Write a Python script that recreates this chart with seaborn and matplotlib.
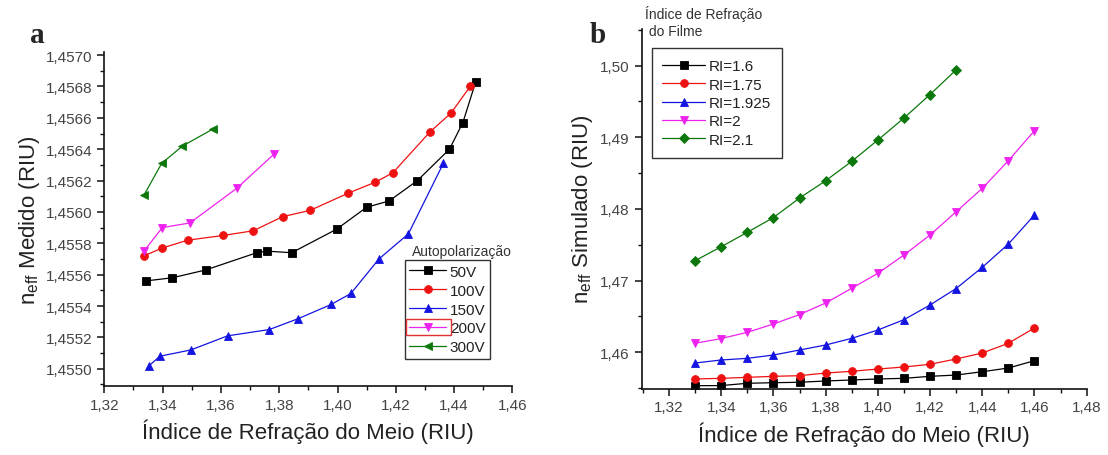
import numpy as np
import pandas as pd
import matplotlib
matplotlib.use("Agg")
import matplotlib.pyplot as plt
from matplotlib.ticker import FuncFormatter, MultipleLocator
from matplotlib.patches import Rectangle
import seaborn as sns

# ---------------- panel a: measured effective index ----------------
v50_x = [1.3342, 1.3433, 1.3548, 1.3723, 1.3757, 1.3843, 1.3997, 1.4100, 1.4177, 1.4274, 1.4384, 1.4430, 1.4474]
v50_y = [1.45556, 1.45558, 1.45563, 1.45574, 1.45575, 1.45574, 1.45589, 1.45603, 1.45607, 1.45620, 1.45640, 1.45657, 1.45683]

v100_x = [1.3336, 1.3399, 1.3486, 1.3608, 1.3711, 1.3812, 1.3906, 1.4037, 1.4130, 1.4190, 1.4317, 1.4389, 1.4455]
v100_y = [1.45572, 1.45577, 1.45582, 1.45585, 1.45588, 1.45597, 1.45601, 1.45612, 1.45619, 1.45625, 1.45651, 1.45663, 1.45680]

v150_x = [1.3354, 1.3391, 1.3497, 1.3623, 1.3766, 1.3866, 1.3978, 1.4046, 1.4142, 1.4243, 1.4363]
v150_y = [1.45502, 1.45508, 1.45512, 1.45521, 1.45525, 1.45532, 1.45541, 1.45548, 1.45570, 1.45586, 1.45631]

v200_x = [1.3336, 1.3399, 1.3494, 1.3654, 1.3783]
v200_y = [1.45575, 1.45590, 1.45593, 1.45615, 1.45637]

v300_x = [1.3337, 1.3397, 1.3468, 1.3574]
v300_y = [1.45611, 1.45631, 1.45642, 1.45653]

bias_labels = ["50V", "100V", "150V", "200V", "300V"]

# ---------------- panel b: simulated effective index ----------------
medium_ri = [1.33, 1.34, 1.35, 1.36, 1.37, 1.38, 1.39, 1.40, 1.41, 1.42, 1.43, 1.44, 1.45, 1.46]
medium_ri_21 = [1.33, 1.34, 1.35, 1.36, 1.37, 1.38, 1.39, 1.40, 1.41, 1.42, 1.43]

sim_160 = [1.45534, 1.45536, 1.45568, 1.45576, 1.45582, 1.45600, 1.45614, 1.45628, 1.45637, 1.45665, 1.45683, 1.45729, 1.45781, 1.45883]
sim_175 = [1.45628, 1.45637, 1.45651, 1.45665, 1.45674, 1.45711, 1.45735, 1.45767, 1.45795, 1.45833, 1.45907, 1.45990, 1.46126, 1.46339]
sim_1925 = [1.45851, 1.45893, 1.45916, 1.45962, 1.46032, 1.46102, 1.46195, 1.46311, 1.46455, 1.46660, 1.46890, 1.47185, 1.47510, 1.47915]
sim_200 = [1.46126, 1.46192, 1.46279, 1.46395, 1.46527, 1.46688, 1.46893, 1.47102, 1.47357, 1.47636, 1.47961, 1.48287, 1.48672, 1.49091]
sim_210 = [1.47278, 1.47473, 1.47674, 1.47880, 1.48152, 1.48393, 1.48664, 1.48961, 1.49268, 1.49596, 1.49940]

film_labels = ["RI=1.6", "RI=1.75", "RI=1.925", "RI=2", "RI=2.1"]

colors = ["#000000", "#ee1111", "#1414e0", "#ee22ee", "#0c780c"]

sns.set_theme(style="ticks")
plt.rcParams["font.family"] = ["Liberation Sans", "DejaVu Sans"]
plt.rcParams["mathtext.default"] = "regular"
plt.rcParams["axes.edgecolor"] = "#111111"
plt.rcParams["axes.linewidth"] = 1.2

fig = plt.figure(figsize=(11.08, 4.56), dpi=100)
ax_a = fig.add_axes([0.0941, 0.1513, 0.3684, 0.7325])
ax_b = fig.add_axes([0.5791, 0.1458, 0.4016, 0.7884])


def draw(ax, x, y, color, marker, label, ms):
    sns.lineplot(x=x, y=y, ax=ax, color=color, marker=marker, markersize=ms,
                 markeredgecolor=color, markeredgewidth=0.6, linewidth=0.9,
                 estimator=None, sort=False, legend=False, label=label)


series_a = [(v50_x, v50_y, "s"), (v100_x, v100_y, "o"), (v150_x, v150_y, "^"),
            (v200_x, v200_y, "v"), (v300_x, v300_y, "<")]
for (x, y, m), c, lab in zip(series_a, colors, bias_labels):
    draw(ax_a, x, y, c, m, lab, 5.6)

series_b = [(medium_ri, sim_160, "s"), (medium_ri, sim_175, "o"), (medium_ri, sim_1925, "^"),
            (medium_ri, sim_200, "v"), (medium_ri_21, sim_210, "D")]
for (x, y, m), c, lab in zip(series_b, colors, film_labels):
    draw(ax_b, x, y, c, m, lab, 5.6)

comma = lambda fmt: FuncFormatter(lambda v, p: fmt.format(v).replace(".", ","))

# axis a
ax_a.set_xlim(1.32, 1.46)
ax_a.set_ylim(1.45489, 1.45702)
ax_a.xaxis.set_major_locator(MultipleLocator(0.02))
ax_a.xaxis.set_minor_locator(MultipleLocator(0.01))
ax_a.yaxis.set_major_locator(MultipleLocator(0.0002))
ax_a.yaxis.set_minor_locator(MultipleLocator(0.0001))
ax_a.xaxis.set_major_formatter(comma("{:.2f}"))
ax_a.yaxis.set_major_formatter(comma("{:.4f}"))
ax_a.set_xlabel("Índice de Refração do Meio (RIU)", fontsize=16, color="#222222", labelpad=5)
ax_a.set_ylabel(r"$n_{eff}$ Medido (RIU)", fontsize=16, color="#222222", labelpad=3)

# axis b
ax_b.set_xlim(1.3095, 1.48)
ax_b.set_ylim(1.45495, 1.5051)
ax_b.xaxis.set_major_locator(MultipleLocator(0.02))
ax_b.xaxis.set_minor_locator(MultipleLocator(0.01))
ax_b.yaxis.set_major_locator(MultipleLocator(0.01))
ax_b.yaxis.set_minor_locator(MultipleLocator(0.005))
ax_b.xaxis.set_major_formatter(comma("{:.2f}"))
ax_b.yaxis.set_major_formatter(comma("{:.2f}"))
ax_b.set_xlabel("Índice de Refração do Meio (RIU)", fontsize=16, color="#222222", labelpad=5)
ax_b.set_ylabel(r"$n_{eff}$ Simulado (RIU)", fontsize=16, color="#222222", labelpad=4)

for ax in (ax_a, ax_b):
    sns.despine(ax=ax)
    ax.tick_params(which="major", direction="out", length=5, width=1.1,
                   labelsize=11, labelcolor="#444444", color="#111111")
    ax.tick_params(which="minor", direction="out", length=3, width=1.0, color="#111111")

leg_a = ax_a.legend(loc="lower right", bbox_to_anchor=(0.945, 0.081), borderaxespad=0,
                    fontsize=11, labelspacing=0.32, handlelength=2.4, handletextpad=0.25,
                    borderpad=0.3, fancybox=False, framealpha=1, edgecolor="#333333",
                    labelcolor="#222222")
leg_a.get_frame().set_linewidth(1.0)
ax_a.text(0.753, 0.404, "Autopolarização", transform=ax_a.transAxes, fontsize=10,
          color="#333333", ha="left", va="center")

leg_b = ax_b.legend(loc="upper left", bbox_to_anchor=(0.0225, 0.946), borderaxespad=0,
                    fontsize=11, labelspacing=0.29, handlelength=2.8, handletextpad=0.25,
                    borderpad=0.7, fancybox=False, framealpha=1, edgecolor="#333333",
                    labelcolor="#222222")
leg_b.get_frame().set_linewidth(1.0)
ax_b.text(0.0074, 1.067, "Índice de Refração\n do Filme", transform=ax_b.transAxes,
          fontsize=10, color="#333333", ha="left", va="top", linespacing=1.3)

# panel letters
fig.text(0.027, 0.922, "a", fontsize=21, fontweight="bold", family="Liberation Serif",
         ha="left", va="center")
fig.text(0.532, 0.922, "b", fontsize=21, fontweight="bold", family="Liberation Serif",
         ha="left", va="center")

# highlight box around the 200V legend entry
fig.canvas.draw()
renderer = fig.canvas.get_renderer()
hb = leg_a.legend_handles[3].get_window_extent(renderer)
inv = fig.transFigure.inverted()
(x0, y0), (x1, y1) = inv.transform([(hb.x0 + 1, hb.y0 - 4), (hb.x1 + 1, hb.y1 + 4)])
fig.patches.append(Rectangle((x0, y0), x1 - x0, y1 - y0, transform=fig.transFigure,
                             fill=False, edgecolor="#e03030", linewidth=1.0, zorder=10))

fig.savefig("out.png", dpi=100)
